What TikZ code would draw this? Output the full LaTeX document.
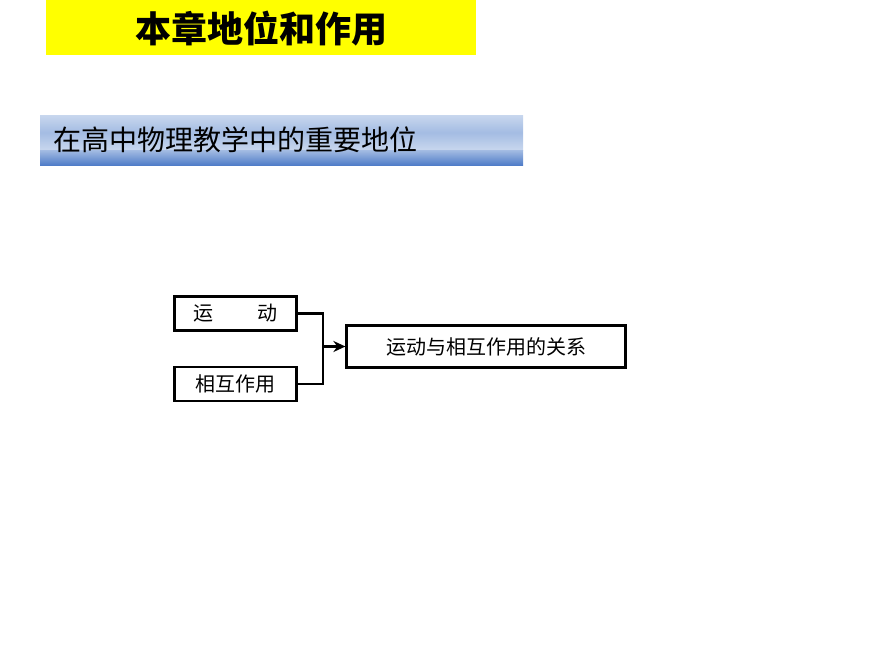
\documentclass[tikz,border=0pt]{standalone}
\usepackage{fontspec}
\newfontfamily\cjk{Noto Sans CJK SC}
\usetikzlibrary{arrows.meta}
\definecolor{ylw}{RGB}{255,255,0}
\definecolor{bluetop}{RGB}{200,215,238}
\definecolor{bluebot}{RGB}{80,125,200}
\begin{document}
\begin{tikzpicture}[x=1pt,y=-1pt,
  box/.style={draw,line width=2.2pt,minimum height=34pt,font=\cjk\fontsize{20}{20}\selectfont,inner sep=0pt},
  conn/.style={line width=2.2pt}]
\useasboundingbox (0,0) rectangle (870,653);
\fill[ylw] (46,0) rectangle (476,55);
\node[font=\cjk\bfseries\fontsize{36}{36}\selectfont] (title) at (261,29) {本章地位和作用};
\shade[top color=bluetop,bottom color=bluetop,middle color=bluetop!70!bluebot] (40,115) rectangle (523,150);
\shade[top color=bluetop!70!bluebot,bottom color=bluebot] (40,150) rectangle (523,165);
\node[anchor=west,font=\cjk\fontsize{28}{28}\selectfont] (sub) at (50,140) {在高中物理教学中的重要地位};
\node[box,minimum width=122pt] (a) at (235.5,313.5) {运\hspace{2.2em}动};
\node[box,minimum width=122pt] (b) at (235.5,384) {相互作用};
\node[box,minimum width=279pt,minimum height=42pt] (c) at (486,346.5) {运动与相互作用的关系};
\coordinate (j) at (323,346.5);
\draw[conn] (a.east) -| (j) |- (b.east);
\draw[conn,-{Stealth[length=12pt,width=11pt]}] (j) -- (c.west);
\end{tikzpicture}
\end{document}
